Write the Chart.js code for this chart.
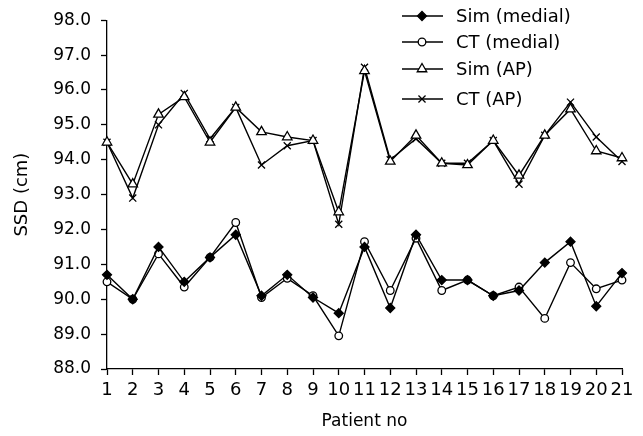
<!DOCTYPE html>
<html>
  <head>
    <title>SSD chart</title>
    <script src="https://cdn.jsdelivr.net/npm/chart.js"></script>
    <style>
      body { margin: 0; padding: 0; background: #ffffff; }
      #ssdChart { display: block; }
    </style>
  </head>
  <body>
    <canvas id="ssdChart" width="643" height="436"></canvas>
    <script>
      const patients = ["1","2","3","4","5","6","7","8","9","10","11","12","13","14","15","16","17","18","19","20","21"];
      const simMedial = [90.7, 90.0, 91.5, 90.5, 91.2, 91.85, 90.1, 90.7, 90.05, 89.6, 91.5, 89.75, 91.85, 90.55, 90.55, 90.1, 90.25, 91.05, 91.65, 89.8, 90.75];
      const ctMedial  = [90.5, 90.0, 91.3, 90.35, 91.2, 92.2, 90.05, 90.6, 90.1, 88.95, 91.65, 90.25, 91.75, 90.25, 90.55, 90.1, 90.35, 89.45, 91.05, 90.3, 90.55];
      const simAP     = [94.5, 93.3, 95.3, 95.8, 94.5, 95.5, 94.8, 94.65, 94.55, 92.5, 96.55, 93.95, 94.7, 93.9, 93.85, 94.55, 93.55, 94.7, 95.45, 94.25, 94.05];
      const ctAP      = [94.5, 92.9, 95.0, 95.9, 94.6, 95.5, 93.85, 94.4, 94.55, 92.15, 96.65, 94.0, 94.6, 93.9, 93.9, 94.55, 93.3, 94.7, 95.65, 94.65, 93.95];
      const yTicks = [88, 89, 90, 91, 92, 93, 94, 95, 96, 97, 98];

      const FONT = "'DejaVu Sans', Arial, sans-serif";

      function series(label, data, style, radius, fill) {
        return {
          label: label,
          data: data,
          borderColor: "#000",
          borderWidth: 1.4,
          pointStyle: style,
          pointRadius: radius,
          pointBorderColor: "#000",
          pointBorderWidth: 1.3,
          pointBackgroundColor: fill,
          fill: false,
          tension: 0,
        };
      }

      const datasets = [
        series("Sim (medial)", simMedial, "rectRot", 4.5, "#000"),
        series("CT (medial)", ctMedial, "circle", 3.8, "#fff"),
        series("Sim (AP)", simAP, "triangle", 5.5, "#fff"),
        series("CT (AP)", ctAP, "crossRot", 5, "#fff"),
      ];

      // legend drawn by hand: short line with marker, then label
      const sideLegend = {
        id: "sideLegend",
        afterDraw(chart) {
          const ctx = chart.ctx;
          const rows = [16, 42, 69, 99];
          ctx.save();
          chart.data.datasets.forEach((ds, i) => {
            const y = rows[i];
            ctx.strokeStyle = "#000";
            ctx.lineWidth = 1.4;
            ctx.beginPath();
            ctx.moveTo(402, y);
            ctx.lineTo(443, y);
            ctx.stroke();
            ctx.fillStyle = ds.pointBackgroundColor;
            ctx.lineWidth = 1.3;
            Chart.helpers.drawPoint(ctx, {
              pointStyle: ds.pointStyle,
              radius: ds.pointRadius,
              rotation: 0,
              borderWidth: 1.3,
            }, 422, y);
            ctx.fillStyle = "#000";
            ctx.font = "18px " + FONT;
            ctx.textBaseline = "middle";
            ctx.textAlign = "left";
            ctx.fillText(ds.label, 456, y + 1);
          });
          ctx.restore();
        },
      };

      new Chart(document.getElementById("ssdChart").getContext("2d"), {
        type: "line",
        data: { labels: patients, datasets: datasets },
        plugins: [sideLegend],
        options: {
          responsive: false,
          animation: false,
          layout: { padding: { left: 0, top: 16, right: 21, bottom: 0 } },
          plugins: { legend: { display: false }, tooltip: { enabled: false } },
          scales: {
            x: {
              type: "category",
              offset: false,
              border: { color: "#000", width: 1.3 },
              grid: { drawOnChartArea: false, color: "#000", tickLength: 6, tickWidth: 1.3 },
              ticks: { color: "#000", font: { family: FONT, size: 18 }, padding: 5, maxRotation: 0, autoSkip: false },
              title: { display: true, text: "Patient no", color: "#000", font: { family: FONT, size: 17 }, padding: { top: 4 } },
              afterFit: (s) => { s.height = 67; },
            },
            y: {
              min: 88,
              max: 98,
              border: { color: "#000", width: 1.3 },
              grid: { drawOnChartArea: false, color: "#000", tickLength: 6, tickWidth: 1.3 },
              afterBuildTicks: (s) => { s.ticks = yTicks.map((v) => ({ value: v })); },
              ticks: {
                color: "#000",
                font: { family: FONT, size: 17 },
                padding: 10,
                callback: (v) => Number(v).toFixed(1),
              },
              title: { display: true, text: "SSD (cm)", color: "#000", font: { family: FONT, size: 18 }, padding: { top: 12, bottom: 4 } },
              afterFit: (s) => { s.width = 107; },
            },
          },
        },
      });
    </script>
  </body>
</html>
